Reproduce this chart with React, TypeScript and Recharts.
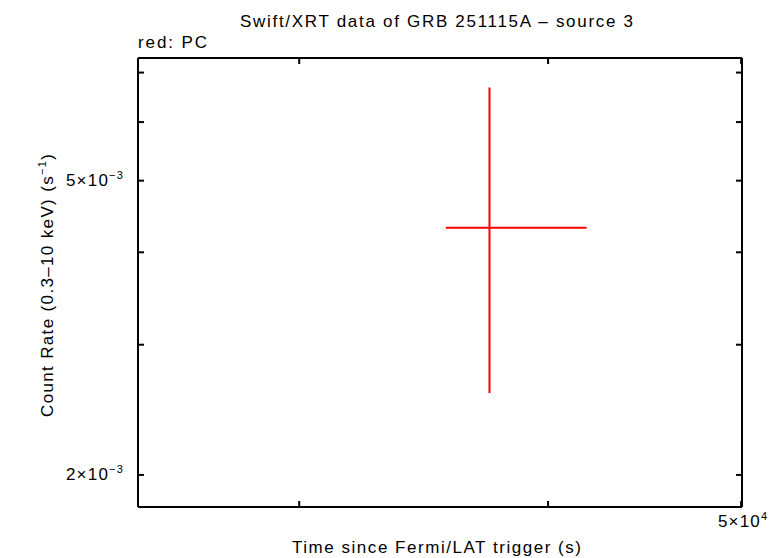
import React from "react";
import {
  ScatterChart,
  Scatter,
  XAxis,
  YAxis,
  ErrorBar,
} from "recharts";

// PC mode point: time (s), rate (count/s), asymmetric errors
const times = [37380];
const timeErrLow = [1840];
const timeErrHigh = [4440];
const rates = [4.319e-3];
const rateErrLow = [1.737e-3];
const rateErrHigh = [2.362e-3];

const xTicks = [30000, 40000, 50000];
const xLabelled = [50000];
const yTicks = [2e-3, 3e-3, 4e-3, 5e-3, 6e-3, 7e-3];
const yLabelled = [2e-3, 5e-3];

const data = times.map((t, i) => ({
  t,
  rate: rates[i],
  tErr: [timeErrLow[i], timeErrHigh[i]],
  rErr: [rateErrLow[i], rateErrHigh[i]],
}));

const FONT = "'Liberation Sans', Arial, sans-serif";
const TICK = 6;

function sci(v: number) {
  const exp = Math.floor(Math.log10(v) + 1e-9);
  const mant = Math.round(v / Math.pow(10, exp));
  return { mant, exp };
}

function Label({ x, y, v, anchor }: { x: number; y: number; v: number; anchor: string }) {
  const { mant, exp } = sci(v);
  return (
    <text
      x={x}
      y={y}
      textAnchor={anchor}
      fontFamily={FONT}
      fontSize={17}
      letterSpacing={1.2}
      fill="#000"
    >
      {`${mant}×10`}
      <tspan dy={-7} fontSize={11}>
        {exp < 0 ? `−${-exp}` : `${exp}`}
      </tspan>
    </text>
  );
}

const BottomTick = (props: any) => {
  const { x, y, payload } = props;
  return (
    <g>
      <line x1={x} x2={x} y1={y} y2={y - TICK} stroke="#000" strokeWidth={2} />
      {xLabelled.includes(payload.value) && (
        <Label x={x + 2} y={y + 20} v={payload.value} anchor="middle" />
      )}
    </g>
  );
};

const TopTick = (props: any) => {
  const { x, y } = props;
  return <line x1={x} x2={x} y1={y} y2={y + TICK} stroke="#000" strokeWidth={2} />;
};

const LeftTick = (props: any) => {
  const { x, y, payload } = props;
  return (
    <g>
      <line x1={x} x2={x + TICK} y1={y} y2={y} stroke="#000" strokeWidth={2} />
      {yLabelled.includes(payload.value) && (
        <Label x={x - 14} y={y + 5} v={payload.value} anchor="end" />
      )}
    </g>
  );
};

const RightTick = (props: any) => {
  const { x, y } = props;
  return <line x1={x} x2={x - TICK} y1={y} y2={y} stroke="#000" strokeWidth={2} />;
};

const axisLine = { stroke: "#000", strokeWidth: 2 };

export default function App() {
  return (
    <div style={{ position: "absolute", left: 0, top: 0, background: "#fff" }}>
      <ScatterChart
        width={782}
        height={558}
        margin={{ top: 57, right: 39, bottom: 50, left: 137 }}
      >
        <XAxis
          xAxisId="b"
          type="number"
          dataKey="t"
          scale="log"
          domain={[24900, 50050]}
          allowDataOverflow
          ticks={xTicks}
          interval={0}
          height={1}
          tickSize={0}
          tickMargin={0}
          tickLine={false}
          axisLine={axisLine}
          tick={BottomTick}
        />
        <XAxis
          xAxisId="t"
          orientation="top"
          type="number"
          dataKey="t"
          scale="log"
          domain={[24900, 50050]}
          allowDataOverflow
          ticks={xTicks}
          interval={0}
          height={1}
          tickSize={0}
          tickMargin={0}
          tickLine={false}
          axisLine={axisLine}
          tick={TopTick}
        />
        <YAxis
          yAxisId="l"
          type="number"
          dataKey="rate"
          scale="log"
          domain={[1.81e-3, 7.325e-3]}
          allowDataOverflow
          ticks={yTicks}
          interval={0}
          width={1}
          tickSize={0}
          tickMargin={0}
          tickLine={false}
          axisLine={axisLine}
          tick={LeftTick}
        />
        <YAxis
          yAxisId="r"
          orientation="right"
          type="number"
          dataKey="rate"
          scale="log"
          domain={[1.81e-3, 7.325e-3]}
          allowDataOverflow
          ticks={yTicks}
          interval={0}
          width={1}
          tickSize={0}
          tickMargin={0}
          tickLine={false}
          axisLine={axisLine}
          tick={RightTick}
        />
        <Scatter
          data={data}
          xAxisId="b"
          yAxisId="l"
          isAnimationActive={false}
          shape={() => <g />}
        >
          <ErrorBar
            dataKey="tErr"
            direction="x"
            width={0}
            stroke="#ff0000"
            strokeWidth={2}
            isAnimationActive={false}
          />
          <ErrorBar
            dataKey="rErr"
            direction="y"
            width={0}
            stroke="#ff0000"
            strokeWidth={2}
            isAnimationActive={false}
          />
        </Scatter>
        <text
          x={240}
          y={27}
          textLength={393}
          lengthAdjust="spacing"
          fontFamily={FONT}
          fontSize={17}
          fill="#000"
        >
          Swift/XRT data of GRB 251115A – source 3
        </text>
        <text
          x={138}
          y={48}
          textLength={69}
          lengthAdjust="spacing"
          fontFamily={FONT}
          fontSize={17}
          fill="#000"
        >
          red: PC
        </text>
        <text
          x={292}
          y={553}
          textLength={289}
          lengthAdjust="spacing"
          fontFamily={FONT}
          fontSize={17}
          fill="#000"
        >
          Time since Fermi/LAT trigger (s)
        </text>
        <text
          x={0}
          y={0}
          transform="translate(53 417) rotate(-90)"
          fontFamily={FONT}
          fontSize={17}
          letterSpacing={1.35}
          fill="#000"
        >
          Count Rate (0.3–10 keV) (s
          <tspan dy={-7} fontSize={11}>−1</tspan>
          <tspan dy={7}>)</tspan>
        </text>
      </ScatterChart>
    </div>
  );
}
